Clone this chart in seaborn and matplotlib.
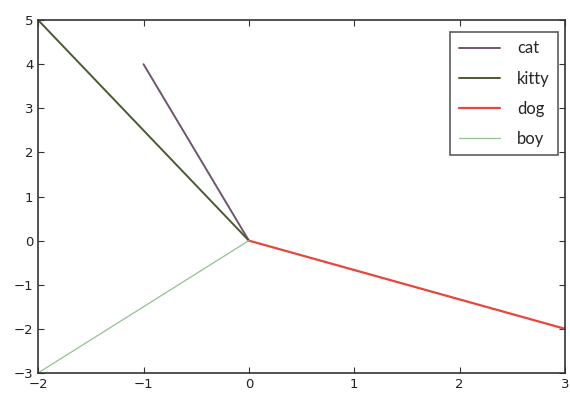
import matplotlib
matplotlib.use("Agg")
import matplotlib.pyplot as plt
import seaborn as sns
import pandas as pd

# Each vector starts at the origin and ends at its (x, y) endpoint
names = ["cat", "kitty", "dog", "boy"]
end_x = [-1, -2, 3, -2]
end_y = [4, 5, -2, -3]
colors = ["#6e566e", "#4b5a2e", "#e8453c", "#94c094"]
widths = [1.4, 1.4, 1.6, 0.9]

rows = []
for n, x, y in zip(names, end_x, end_y):
    rows.append({"name": n, "x": 0, "y": 0, "step": 0})
    rows.append({"name": n, "x": x, "y": y, "step": 1})
df = pd.DataFrame(rows)

sns.set_style("ticks")
plt.rcParams["font.family"] = ["DejaVu Sans"]

fig = plt.figure(figsize=(5.7, 3.95), dpi=100)
ax = fig.add_axes([0.067, 0.056, 0.924, 0.893])

sns.lineplot(data=df, x="x", y="y", hue="name", palette=dict(zip(names, colors)),
             hue_order=names, sort=False, estimator=None, units="name", ax=ax)
for line, lw in zip(ax.lines, widths):
    line.set_linewidth(lw)

ax.set_xlim(-2, 3)
ax.set_ylim(-3, 5)
ax.set_xticks(range(-2, 4))
ax.set_yticks(range(-3, 6))
ax.set_xlabel("")
ax.set_ylabel("")
ax.tick_params(direction="in", top=True, right=True, labelsize=9.5,
               length=4, width=0.8, colors="#333333", labelcolor="#222222")
for s in ax.spines.values():
    s.set_visible(True)
    s.set_linewidth(1.2)
    s.set_color("#333333")

handles = ax.lines[:4]
leg = ax.legend(handles, names, loc="upper right", frameon=True,
                prop={"family": "Lato", "size": 12},
                fancybox=False, handlelength=2.5, handletextpad=1.0,
                borderpad=0.5, labelspacing=0.85, borderaxespad=0,
                bbox_to_anchor=(0.987, 0.966))
leg.get_frame().set_edgecolor("#333333")
leg.get_frame().set_linewidth(1.2)

fig.savefig("out.png", dpi=100)
